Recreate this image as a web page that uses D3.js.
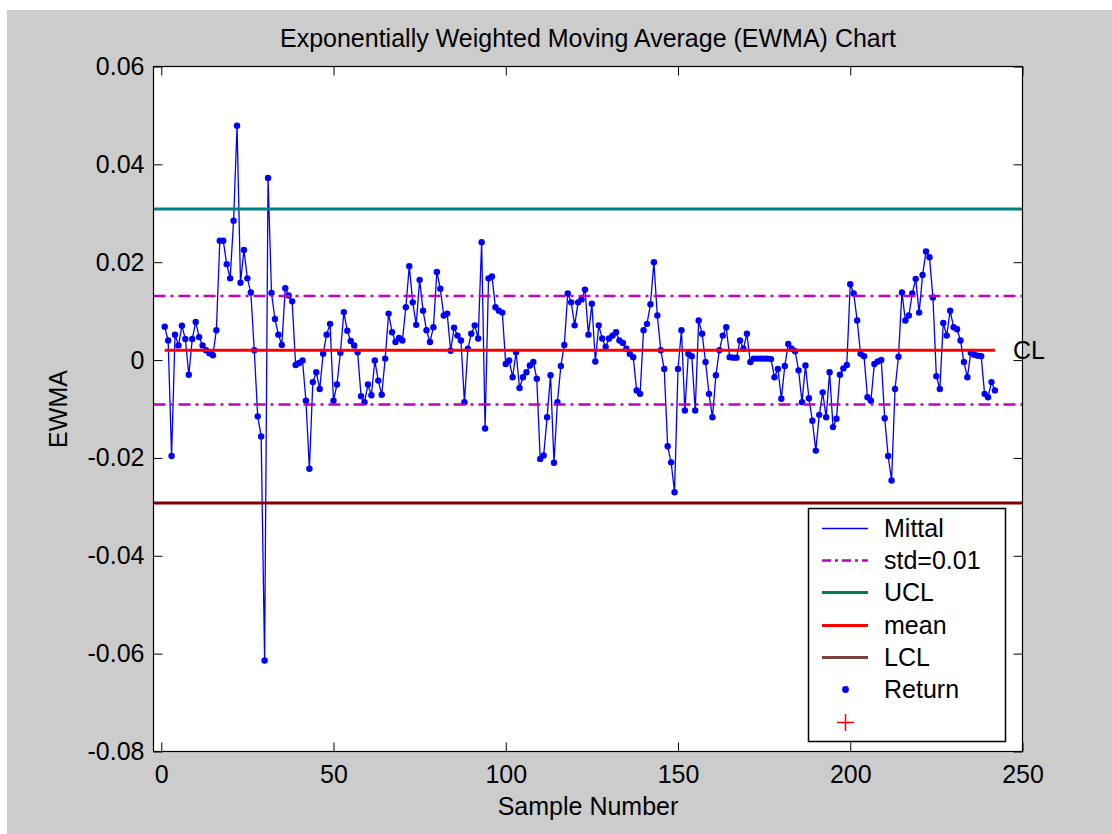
<!DOCTYPE html>
<html>
<head>
<meta charset="utf-8">
<script src="https://cdn.jsdelivr.net/npm/d3@7"></script>
<style>
body { margin: 0; background: #fff; }
svg text { font-family: "Liberation Sans", Arial, sans-serif; fill: #000; }
</style>
</head>
<body>
<script>
// EWMA values, samples 1..242
const ewmaValues = [
  0.0068, 0.0040, -0.0196, 0.0052, 0.0030, 0.0070, 0.0043, -0.0030, 0.0043, 0.0078,
  0.0047, 0.0030, 0.0020, 0.0014, 0.0010, 0.0061, 0.0244, 0.0244, 0.0196, 0.0167,
  0.0285, 0.0479, 0.0158, 0.0225, 0.0167, 0.0138, 0.0020, -0.0115, -0.0156, -0.0614,
  0.0372,
  0.0137, 0.0084, 0.0052, 0.0031, 0.0147, 0.0132, 0.0120, -0.0010, -0.0006, -0.0001,
  -0.0083, -0.0222, -0.0045, -0.0025, -0.0059, 0.0013, 0.0052, 0.0074, -0.0083, -0.0050,
  0.0015, 0.0098, 0.0060, 0.0039, 0.0030, 0.0016, -0.0074, -0.0086, -0.0050,
  -0.0072, -0.0001, -0.0042, -0.0071, 0.0003, 0.0095, 0.0057, 0.0037, 0.0045, 0.0040,
  0.0108, 0.0192, 0.0118, 0.0072, 0.0164, 0.0101, 0.0061, 0.0037, 0.0067, 0.0180,
  0.0146, 0.0091, 0.0095, 0.0019, 0.0066, 0.0050, 0.0040, -0.0086, 0.0023, 0.0054,
  0.0071, 0.0044, 0.0241, -0.0140, 0.0167, 0.0171, 0.0108, 0.0101, 0.0097, -0.0008,
  -0.0001, -0.0035, 0.0016, -0.0057, -0.0035, -0.0025, -0.0011, -0.0004, -0.0038, -0.0202,
  -0.0195, -0.0117, -0.0031, -0.0210, -0.0086, -0.0012, 0.0031, 0.0136, 0.0118, 0.0071,
  0.0118, 0.0124, 0.0144, 0.0052, 0.0115, -0.0003, 0.0071, 0.0044, 0.0027, 0.0044,
  0.0050, 0.0057, 0.0040, 0.0035, 0.0023, 0.0013, 0.0006, -0.0062, -0.0069, 0.0061,
  0.0074, 0.0114, 0.0200, 0.0091, 0.0020, -0.0018, -0.0176, -0.0209, -0.0270, -0.0018,
  0.0061,
  -0.0103, 0.0013, 0.0008, -0.0103, 0.0081, 0.0054, -0.0004, -0.0069, -0.0117, -0.0031,
  0.0020, 0.0050, 0.0067, 0.0006, 0.0005, 0.0005, 0.0040, 0.0023, 0.0054, -0.0004,
  0.0003, 0.0003, 0.0003, 0.0003, 0.0003, 0.0002, -0.0035, -0.0018, -0.0079, -0.0012,
  0.0033,
  0.0023, 0.0018, -0.0021, -0.0086, -0.0011, -0.0078, -0.0124, -0.0185, -0.0112, -0.0066,
  -0.0117, -0.0025, -0.0137, -0.0120, -0.0030, -0.0017, -0.0010, 0.0155, 0.0136, 0.0081,
  0.0013, 0.0008, -0.0076, -0.0083, -0.0008, -0.0003, 0.0000, -0.0119, -0.0196, -0.0246,
  -0.0059, 0.0007, 0.0138, 0.0081, 0.0091, 0.0136, 0.0166, 0.0097, 0.0174, 0.0222,
  0.0210, 0.0128, -0.0033, -0.0059, 0.0076, 0.0050, 0.0101, 0.0067, 0.0063, 0.0040,
  -0.0004, -0.0035, 0.0015, 0.0011, 0.0009, 0.0008, -0.0069, -0.0076, -0.0045, -0.0062
];

const meanValue = 0.0020;
const stdBand = [0.0131, -0.0091];
const uclValue = 0.0309;
const lclValue = -0.0292;

const xTickValues = [0, 50, 100, 150, 200, 250];
const yTickValues = [0.06, 0.04, 0.02, 0, -0.02, -0.04, -0.06, -0.08];

const legendLabels = ["Mittal", "std=0.01", "UCL", "mean", "LCL", "Return", ""];

const W = 1112, H = 834;
const plot = { left: 153.5, top: 66.5, right: 1022.5, bottom: 751.5 };

const data = ewmaValues.map((v, i) => ({ n: i + 1, v: v }));

const svg = d3.select("body").append("svg")
    .attr("width", W)
    .attr("height", H);

// figure background
svg.append("rect")
    .attr("x", 7).attr("y", 10)
    .attr("width", W - 7).attr("height", H - 10)
    .attr("fill", "#cccccc");

svg.append("rect")
    .attr("x", plot.left).attr("y", plot.top)
    .attr("width", plot.right - plot.left).attr("height", plot.bottom - plot.top)
    .attr("fill", "#fff");

const xScale = d3.scaleLinear().domain([-2.25, 250]).range([plot.left, plot.right]);
const yScale = d3.scaleLinear().domain([-0.08, 0.06]).range([plot.bottom, plot.top]);

svg.append("clipPath").attr("id", "clip")
    .append("rect")
    .attr("x", plot.left).attr("y", plot.top)
    .attr("width", plot.right - plot.left).attr("height", plot.bottom - plot.top);

const g = svg.append("g").attr("clip-path", "url(#clip)");

// data line + dots
const line = d3.line().x(d => xScale(d.n)).y(d => yScale(d.v));
g.append("path")
    .datum(data)
    .attr("d", line)
    .attr("fill", "none")
    .attr("stroke", "#0000ff")
    .attr("stroke-width", 1.3);

g.selectAll(".dot")
    .data(data)
    .enter().append("circle")
    .attr("class", "dot")
    .attr("cx", d => xScale(d.n))
    .attr("cy", d => yScale(d.v))
    .attr("r", 3.2)
    .attr("fill", "#0000ff");

// control lines
stdBand.forEach(s => {
    g.append("line")
        .attr("x1", xScale(-2.25)).attr("x2", xScale(250))
        .attr("y1", yScale(s)).attr("y2", yScale(s))
        .attr("stroke", "#bf00bf")
        .attr("stroke-width", 2.5)
        .attr("stroke-dasharray", "12,5,3,5");
});

g.append("line")
    .attr("x1", xScale(-2.25)).attr("x2", xScale(250))
    .attr("y1", yScale(uclValue)).attr("y2", yScale(uclValue))
    .attr("stroke", "#008080").attr("stroke-width", 3);

g.append("line")
    .attr("x1", xScale(1)).attr("x2", xScale(ewmaValues.length))
    .attr("y1", yScale(meanValue)).attr("y2", yScale(meanValue))
    .attr("stroke", "#ff0000").attr("stroke-width", 3);

g.append("line")
    .attr("x1", xScale(-2.25)).attr("x2", xScale(250))
    .attr("y1", yScale(lclValue)).attr("y2", yScale(lclValue))
    .attr("stroke", "#800000").attr("stroke-width", 3);

// axes
const fontSize = 25;
const tickLen = 9;

const xAxisB = d3.axisBottom(xScale).tickValues(xTickValues).tickSizeInner(-tickLen).tickSizeOuter(0).tickPadding(14);
const xAxisT = d3.axisTop(xScale).tickValues(xTickValues).tickSizeInner(-tickLen).tickSizeOuter(0).tickFormat("");
const yAxisL = d3.axisLeft(yScale).tickValues(yTickValues).tickSizeInner(-tickLen).tickSizeOuter(0).tickPadding(9)
    .tickFormat(d => d === 0 ? "0" : d.toFixed(2));
const yAxisR = d3.axisRight(yScale).tickValues(yTickValues).tickSizeInner(-tickLen).tickSizeOuter(0).tickFormat("");

function styleAxis(sel) {
    sel.select(".domain").remove();
    sel.selectAll(".tick line").attr("stroke", "#000").attr("stroke-width", 1);
    sel.selectAll(".tick text")
        .style("font-family", "'Liberation Sans', Arial, sans-serif")
        .style("font-size", fontSize + "px")
        .attr("fill", "#000");
}

svg.append("g").attr("transform", `translate(0,${plot.bottom})`).call(xAxisB).call(styleAxis);
svg.append("g").attr("transform", `translate(0,${plot.top})`).call(xAxisT).call(styleAxis);
svg.append("g").attr("transform", `translate(${plot.left},0)`).call(yAxisL).call(styleAxis);
svg.append("g").attr("transform", `translate(${plot.right},0)`).call(yAxisR).call(styleAxis);

// frame
svg.append("rect")
    .attr("x", plot.left).attr("y", plot.top)
    .attr("width", plot.right - plot.left).attr("height", plot.bottom - plot.top)
    .attr("fill", "none")
    .attr("stroke", "#000")
    .attr("stroke-width", 1.2);

// CL label
svg.append("text")
    .attr("x", 1013)
    .attr("y", yScale(meanValue))
    .attr("dy", "0.35em")
    .style("font-size", fontSize + "px")
    .text("CL");

// title and axis labels
svg.append("text")
    .attr("x", (plot.left + plot.right) / 2)
    .attr("y", 47)
    .attr("text-anchor", "middle")
    .style("font-size", fontSize + "px")
    .text("Exponentially Weighted Moving Average (EWMA) Chart");

svg.append("text")
    .attr("x", (plot.left + plot.right) / 2)
    .attr("y", 815)
    .attr("text-anchor", "middle")
    .style("font-size", fontSize + "px")
    .text("Sample Number");

svg.append("text")
    .attr("transform", `translate(67,${(plot.top + plot.bottom) / 2}) rotate(-90)`)
    .attr("text-anchor", "middle")
    .style("font-size", fontSize + "px")
    .text("EWMA");

// legend
const legend = svg.append("g");
legend.append("rect")
    .attr("x", 808.5).attr("y", 508.5)
    .attr("width", 197).attr("height", 233)
    .attr("fill", "#fff")
    .attr("stroke", "#000")
    .attr("stroke-width", 1.5);

const legendStyles = [
    { type: "line", color: "#0000ff", width: 1.6, dash: null },
    { type: "line", color: "#bf00bf", width: 2.5, dash: "9,4,3,4" },
    { type: "line", color: "#008040", width: 3, dash: null },
    { type: "line", color: "#ff0000", width: 3, dash: null },
    { type: "line", color: "#804040", width: 3, dash: null },
    { type: "dot", color: "#0000ff" },
    { type: "plus", color: "#ff0000" }
];

const rowY = d3.scaleLinear().domain([0, legendLabels.length - 1]).range([527.5, 721.5]);

legendLabels.forEach((label, i) => {
    const st = legendStyles[i];
    const y = Math.round(rowY(i)) + 0.5;
    if (st.type === "line") {
        const ln = legend.append("line")
            .attr("x1", 822).attr("x2", 868)
            .attr("y1", y).attr("y2", y)
            .attr("stroke", st.color)
            .attr("stroke-width", st.width);
        if (st.dash) ln.attr("stroke-dasharray", st.dash);
    } else if (st.type === "dot") {
        legend.append("circle")
            .attr("cx", 845.5).attr("cy", y)
            .attr("r", 3.4)
            .attr("fill", st.color);
    } else {
        legend.append("path")
            .attr("d", `M${845.5 - 8.5},${y}H${845.5 + 8.5}M845.5,${y - 8.5}V${y + 8.5}`)
            .attr("stroke", st.color)
            .attr("stroke-width", 1.5);
    }
    legend.append("text")
        .attr("x", 884)
        .attr("y", y)
        .attr("dy", "0.35em")
        .style("font-size", fontSize + "px")
        .text(label);
});
</script>
</body>
</html>
